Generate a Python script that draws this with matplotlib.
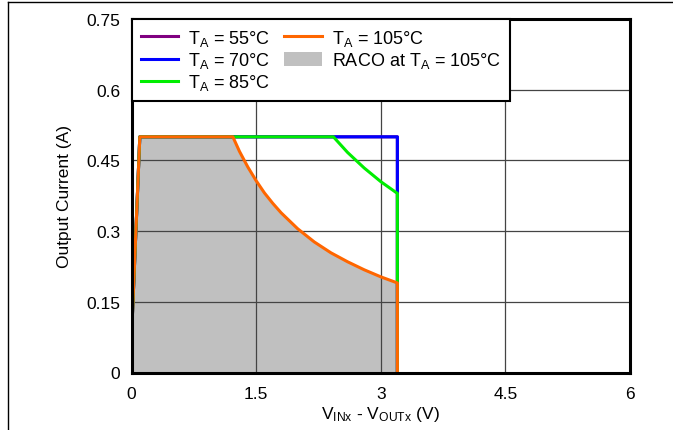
import matplotlib
matplotlib.use("Agg")
import matplotlib.pyplot as plt
from matplotlib.lines import Line2D
from matplotlib.patches import Patch

plt.rcParams['font.family'] = ['Liberation Sans', 'DejaVu Sans']
plt.rcParams['mathtext.fontset'] = 'custom'
plt.rcParams['mathtext.rm'] = 'Liberation Sans'
plt.rcParams['mathtext.it'] = 'Liberation Sans'

# values (V, A)
v_55 = [0.0, 0.1, 3.2, 3.2]
i_55 = [0.075, 0.5, 0.5, 0.0]

v_70 = [0.0, 0.1, 3.2, 3.2]
i_70 = [0.075, 0.5, 0.5, 0.0]

v_85 = [0.0, 0.1, 2.43, 2.6, 2.8, 3.0, 3.2, 3.2]
i_85 = [0.075, 0.5, 0.5, 0.467, 0.434, 0.405, 0.38, 0.0]

v_105 = [0.0, 0.1, 1.22, 1.3, 1.4, 1.5, 1.6, 1.7, 1.8, 2.0, 2.2, 2.4, 2.6, 2.8, 3.0, 3.2, 3.2]
i_105 = [0.075, 0.5, 0.5, 0.469, 0.436, 0.407, 0.381, 0.359, 0.339, 0.305, 0.277,
         0.254, 0.235, 0.218, 0.203, 0.19, 0.0]

x_ticks = [0, 1.5, 3, 4.5, 6]
x_tick_labels = ['0', '1.5', '3', '4.5', '6']
y_ticks = [0, 0.15, 0.3, 0.45, 0.6, 0.75]
y_tick_labels = ['0', '0.15', '0.3', '0.45', '0.6', '0.75']

fig = plt.figure(figsize=(6.73, 4.31), dpi=100)
ax = fig.add_axes([131.5 / 673, 1 - 373.5 / 431, (630 - 131.5) / 673, (373.5 - 20) / 431])

ax.fill_between(v_105, i_105, 0, color='#c0c0c0', lw=0, zorder=1)
ax.plot(v_55, i_55, color='#800080', lw=2.2, zorder=3)
ax.plot(v_70, i_70, color='#0000ff', lw=2.2, zorder=3)
ax.plot(v_85, i_85, color='#00ee00', lw=2.2, zorder=3)
ax.plot(v_105, i_105, color='#ff6600', lw=2.2, zorder=4)

ax.set_xlim(0, 6)
ax.set_ylim(0, 0.75)
ax.set_xticks(x_ticks)
ax.set_xticklabels(x_tick_labels)
ax.set_yticks(y_ticks)
ax.set_yticklabels(y_tick_labels)
ax.tick_params(axis='both', length=0, labelsize=12.5)
ax.tick_params(axis='x', pad=10)
ax.tick_params(axis='y', pad=8)
ax.grid(True, color='#444444', lw=0.9, zorder=2)
ax.set_axisbelow(False)
for s in ax.spines.values():
    s.set_linewidth(2.2)
    s.set_zorder(5)

ax.set_xlabel(r'V$_{\mathregular{INx}}$ - V$_{\mathregular{OUTx}}$ (V)', fontsize=12.5, labelpad=2)
ax.set_ylabel('Output Current (A)', fontsize=12.5, labelpad=10)

handles = [
    Line2D([], [], color='#800080', lw=2.2),
    Line2D([], [], color='#0000ff', lw=2.2),
    Line2D([], [], color='#00ee00', lw=2.2),
    Line2D([], [], color='#ff6600', lw=2.2),
    Patch(facecolor='#c0c0c0', edgecolor='none'),
]
labels = [
    r'T$_{\mathregular{A}}$ = 55°C',
    r'T$_{\mathregular{A}}$ = 70°C',
    r'T$_{\mathregular{A}}$ = 85°C',
    r'T$_{\mathregular{A}}$ = 105°C',
    r'RACO at T$_{\mathregular{A}}$ = 105°C',
]
leg = ax.legend(handles, labels, ncol=2, loc='upper left', fontsize=13,
                frameon=True, fancybox=False, borderaxespad=0, handlelength=2.1,
                handleheight=0.8, handletextpad=0.55, columnspacing=0.75,
                labelspacing=0.12, borderpad=0.5)
leg.get_frame().set_edgecolor('black')
leg.get_frame().set_linewidth(1.5)
leg.get_frame().set_alpha(1)
leg.set_zorder(6)

# partial outer frame of the original figure
fig.add_artist(Line2D([8 / 673, 8 / 673], [0, 1 - 3 / 431], color='black', lw=1))
fig.add_artist(Line2D([8 / 673, 1], [1 - 3 / 431, 1 - 3 / 431], color='black', lw=1))

fig.savefig('out.png', dpi=100)
